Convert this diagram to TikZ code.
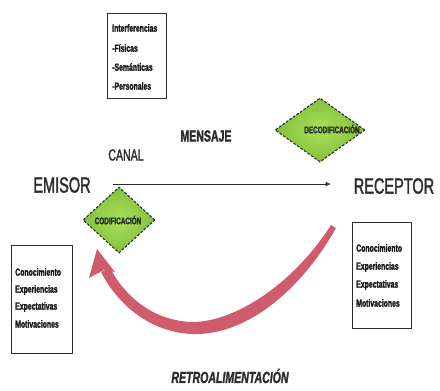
\documentclass[tikz,border=0pt]{standalone}
\usepackage{fontspec}
\setmainfont{Liberation Sans}
\newfontfamily\cond[FakeStretch=0.68]{Liberation Sans}
\newfontfamily\heavy[FakeStretch=0.66,FakeBold=1.6]{Liberation Sans}
\usetikzlibrary{arrows.meta,shapes.geometric}
\definecolor{greenA}{RGB}{170,225,90}
\definecolor{greenB}{RGB}{130,192,60}
\definecolor{feedred}{RGB}{206,92,108}
\definecolor{ink}{RGB}{45,45,45}
\begin{document}
\begin{tikzpicture}[x=0.75pt,y=-0.75pt,
  txt/.style={text=ink, inner sep=0pt},
  lbox/.style={draw=ink, line width=0.6pt, fill=white, inner sep=0pt},
  dia/.style={diamond, draw=black!85, dash pattern=on 2pt off 1.2pt, line width=0.8pt,
              inner color=greenA, outer color=greenB, inner sep=0pt},
  small/.style={txt, text=black!90, font=\heavy\fontsize{7.8}{9}\selectfont\bfseries, anchor=west},
  diatxt/.style={txt, text=black!85, font=\heavy\fontsize{7.2}{8}\selectfont\bfseries},
  big/.style={txt, font=\heavy\fontsize{16.5}{18}\selectfont},
]
\useasboundingbox (0,0) rectangle (440,390);

% boxes
\node[lbox, minimum width=44.25pt, minimum height=63.75pt] (topbox) at (136.5,55.5) {};
\node[lbox, minimum width=45.75pt, minimum height=81pt] (leftbox) at (41.5,299) {};
\node[lbox, minimum width=44.25pt, minimum height=79.5pt] (rightbox) at (381.5,275) {};

\node[small] (t1) at (112,28) {Interferencias};
\node[small] (t2) at (112,48) {-Físicas};
\node[small] (t3) at (112,67) {-Semánticas};
\node[small] (t4) at (112,86) {-Personales};

\node[small] (l1) at (15,272) {Conocimiento};
\node[small] (l2) at (15,290) {Experiencias};
\node[small] (l3) at (15,307) {Expectativas};
\node[small] (l4) at (15,324) {Motivaciones};

\node[small] (r1) at (356,248) {Conocimiento};
\node[small] (r2) at (356,267) {Experiencias};
\node[small] (r3) at (356,285) {Expectativas};
\node[small] (r4) at (356,303) {Motivaciones};

% labels
\node[big] (emisor) at (62,185) {EMISOR};
\node[big] (receptor) at (394,186) {RECEPTOR};
\node[txt, font=\heavy\fontsize{12}{13}\selectfont] (canal) at (126,155) {CANAL};
\node[txt, font=\heavy\fontsize{12}{13}\selectfont\bfseries] (mensaje) at (206,136) {MENSAJE};
\node[txt, font=\heavy\fontsize{12}{13}\selectfont\bfseries\itshape] (retro) at (230,376) {RETROALIMENTACIÓN};

% main arrow
\coordinate (a0) at (113,184);
\coordinate (a1) at (331,184);
\draw[ink, line width=0.6pt, -{Latex[length=4pt,width=3.5pt]}] (a0) -- (a1);

% diamonds
\node[dia, minimum width=67.5pt, minimum height=48pt] (decod) at (320,130) {};
\node[diatxt] (decodt) at (332,129) {DECODIFICACIÓN};
\node[dia, minimum width=54pt, minimum height=49.5pt] (cod) at (119,220) {};
\node[diatxt] (codt) at (118,220) {CODIFICACIÓN};

% feedback arrow
\fill[feedred] (336,228) .. controls (300,292) and (245,336) .. (192,334)
  .. controls (150,332) and (118,305) .. (101,272)
  -- (110,268)
  .. controls (126,298) and (155,322) .. (195,322)
  .. controls (240,320) and (296,280) .. (331,225) -- cycle;
\fill[feedred] (97,249) -- (115,272) -- (104,270) -- (89,278) -- cycle;
\end{tikzpicture}
\end{document}
